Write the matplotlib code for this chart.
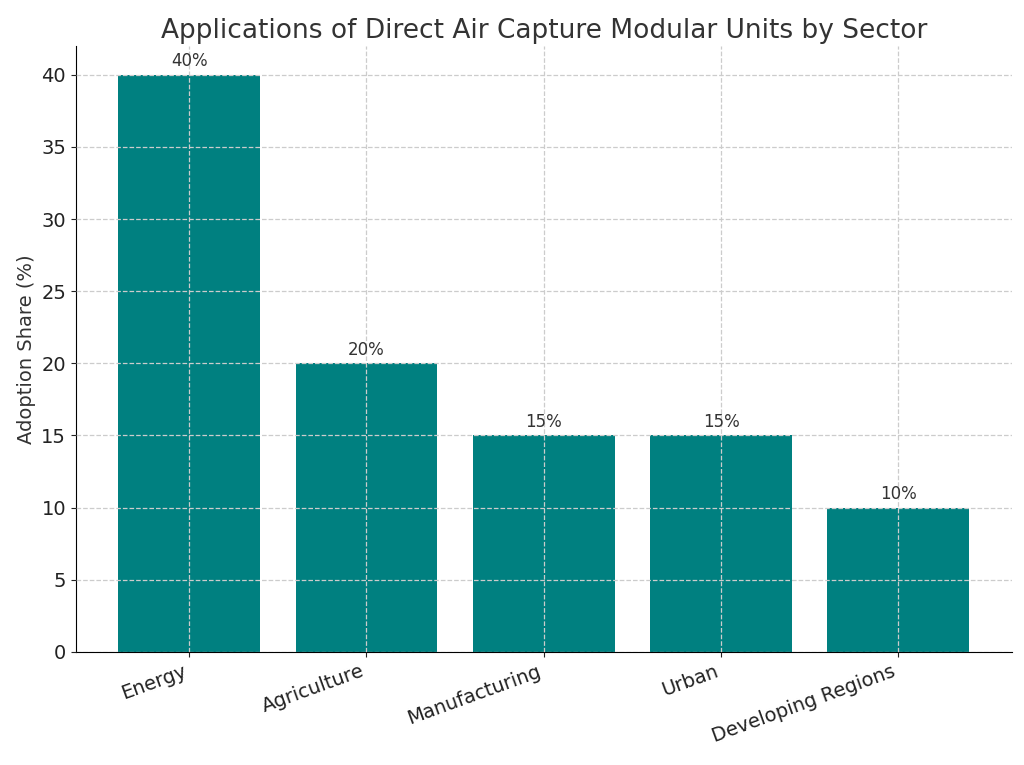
import matplotlib.pyplot as plt

sectors = ['Energy', 'Agriculture', 'Manufacturing', 'Urban', 'Developing Regions']
shares = [40, 20, 15, 15, 10]

fig = plt.figure(figsize=(10.24, 7.65), dpi=100)
ax = fig.add_axes([0.074, 0.148, 0.914, 0.792])

bars = ax.bar(sectors, shares, color='#008080', width=0.8)
for b, v in zip(bars, shares):
    ax.text(b.get_x() + b.get_width() / 2, v + 0.3, f'{v}%', ha='center', va='bottom',
            fontsize=12, color='#333333')

ax.set_ylim(0, 42)
ax.set_yticks(range(0, 41, 5))
ax.set_ylabel('Adoption Share (%)', fontsize=14, color='#333333')
ax.set_title('Applications of Direct Air Capture Modular Units by Sector', fontsize=19, color='#333333')
ax.grid(True, linestyle='--', color='#cccccc', linewidth=0.9)
ax.set_axisbelow(False)
ax.spines['top'].set_visible(False)
ax.spines['right'].set_visible(False)
ax.tick_params(labelsize=14, colors='#222222')
plt.setp(ax.get_xticklabels(), rotation=20, ha='right')

fig.savefig('out.png', dpi=100)
